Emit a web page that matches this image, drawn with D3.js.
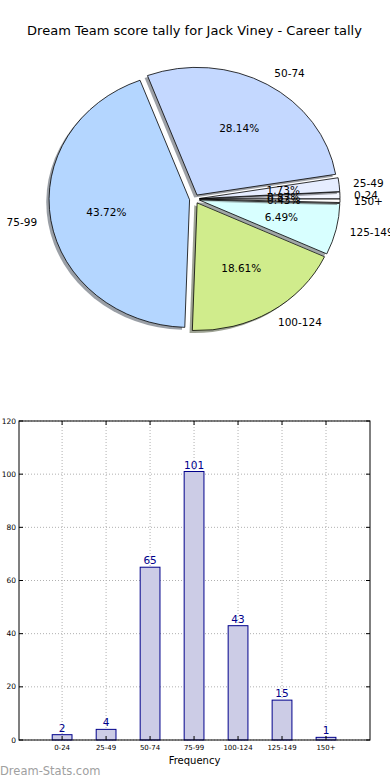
<!DOCTYPE html>
<html>
<head>
<meta charset="utf-8">
<script src="https://cdn.jsdelivr.net/npm/d3@7"></script>
<style>
html,body{margin:0;padding:0;background:#fff;}
svg{display:block;font-family:"DejaVu Sans",sans-serif;}
</style>
</head>
<body>
<svg id="chart" width="390" height="780"></svg>
<script>
const categories = ["0-24","25-49","50-74","75-99","100-124","125-149","150+"];
const counts = [2,4,65,101,43,15,1];
const sliceColors = ["#f4f6ff","#e6edff","#c4d8ff","#b4d6ff","#d0ec8c","#d8ffff","#ffffff"];
const yTicks = [0,20,40,60,80,100,120];
const titleText = "Dream Team score tally for Jack Viney - Career tally";

const svg = d3.select("#chart");
svg.append("rect").attr("width",390).attr("height",780).attr("fill","#fff");

// Title
svg.append("text").attr("x",194.5).attr("y",35).attr("text-anchor","middle")
  .attr("font-size",13).attr("fill","#000").text(titleText);

// ---------- Pie ----------
const cx = 194.5, cy = 199, rx = 140.5, ry = 127.7, k = ry/rx, ex = 5;
const total = d3.sum(counts);
const pie = d3.pie().sort(null).startAngle(Math.PI/2).endAngle(Math.PI/2 - 2*Math.PI);
const arcs = pie(counts);
const arcGen = d3.arc().innerRadius(0).outerRadius(rx);
const pieG = svg.append("g");

arcs.forEach((a,i)=>{
  const m = (a.startAngle + a.endAngle)/2;
  const dx = ex*Math.sin(m), dy = -ex*k*Math.cos(m);
  // shadow
  const c = d3.rgb(sliceColors[i]);
  pieG.append("path").attr("d", arcGen(a))
    .attr("transform", `translate(${cx+dx-2.8},${cy+dy+2.5}) scale(1,${k})`)
    .attr("fill", d3.rgb(c.r*0.3,c.g*0.3,c.b*0.3)).attr("fill-opacity",0.5);
  pieG.append("path").attr("d", arcGen(a))
    .attr("transform", `translate(${cx+dx},${cy+dy}) scale(1,${k})`)
    .attr("fill", sliceColors[i]).attr("stroke","#000").attr("stroke-width",0.8)
    .attr("vector-effect","non-scaling-stroke").attr("stroke-linejoin","round");
});
arcs.forEach((a,i)=>{
  const m = (a.startAngle + a.endAngle)/2;
  const s = Math.sin(m), co = Math.cos(m);
  const lx = cx + (1.1*rx + ex)*s, ly = cy - (1.1*ry + ex*k)*co;
  pieG.append("text").attr("x",lx).attr("y",ly).attr("dy","0.36em")
    .attr("text-anchor", s>0 ? "start" : "end").attr("font-size",10.5).attr("fill","#000")
    .text(categories[i]);
  const px = cx + (0.6*rx + ex)*s, py = cy - (0.6*ry + ex*k)*co;
  pieG.append("text").attr("x",px).attr("y",py).attr("dy","0.36em")
    .attr("text-anchor","middle").attr("font-size",10.5).attr("fill","#000")
    .text((counts[i]/total*100).toFixed(2)+"%");
});

// ---------- Bar chart ----------
const L = 19, R = 370, T = 421, B = 740;
const x = d3.scaleLinear().domain([-0.98, 7]).range([L, R]);
const y = d3.scaleLinear().domain([0, 120]).range([B, T]);
const bw = 0.45;
const barG = svg.append("g");

// grid
yTicks.forEach(t=>{
  barG.append("line").attr("x1",L).attr("x2",R).attr("y1",y(t)).attr("y2",y(t))
    .attr("stroke","#b0b0b0").attr("stroke-width",1).attr("stroke-dasharray","1,2");
});
categories.forEach((c,i)=>{
  barG.append("line").attr("x1",x(i)).attr("x2",x(i)).attr("y1",T).attr("y2",B)
    .attr("stroke","#b0b0b0").attr("stroke-width",1).attr("stroke-dasharray","1,2");
});

// bars
categories.forEach((c,i)=>{
  barG.append("rect").attr("x",x(i-bw/2)).attr("width",x(bw)-x(0))
    .attr("y",y(counts[i])).attr("height",y(0)-y(counts[i]))
    .attr("fill","#ccccE6").attr("stroke","#00008b").attr("stroke-width",1);
  barG.append("text").attr("x",x(i)).attr("y",y(counts[i])-3)
    .attr("text-anchor","middle").attr("font-size",10.5).attr("fill","#00008b")
    .text(counts[i]);
});

// frame
barG.append("rect").attr("x",L).attr("y",T).attr("width",R-L).attr("height",B-T)
  .attr("fill","none").attr("stroke","#000").attr("stroke-width",1);

// ticks
yTicks.forEach(t=>{
  barG.append("line").attr("x1",L).attr("x2",L+4).attr("y1",y(t)).attr("y2",y(t)).attr("stroke","#000");
  barG.append("line").attr("x1",R-4).attr("x2",R).attr("y1",y(t)).attr("y2",y(t)).attr("stroke","#000");
  barG.append("text").attr("x",L-3).attr("y",y(t)).attr("dy","0.35em").attr("text-anchor","end")
    .attr("font-size",7.5).attr("fill","#000").text(t);
});
categories.forEach((c,i)=>{
  barG.append("line").attr("x1",x(i)).attr("x2",x(i)).attr("y1",B).attr("y2",B-4).attr("stroke","#000");
  barG.append("line").attr("x1",x(i)).attr("x2",x(i)).attr("y1",T).attr("y2",T+4).attr("stroke","#000");
  barG.append("text").attr("x",x(i)).attr("y",B+10).attr("text-anchor","middle")
    .attr("font-size",7).attr("fill","#000").text(c);
});
barG.append("text").attr("x",(L+R)/2).attr("y",764).attr("text-anchor","middle")
  .attr("font-size",10).attr("fill","#000").text("Frequency");

// watermark
svg.append("text").attr("x",0).attr("y",775).attr("font-size",11.5)
  .attr("fill","#a0a0a0").attr("font-family","'DejaVu Sans',sans-serif").text("Dream-Stats.com");
</script>
</body>
</html>
